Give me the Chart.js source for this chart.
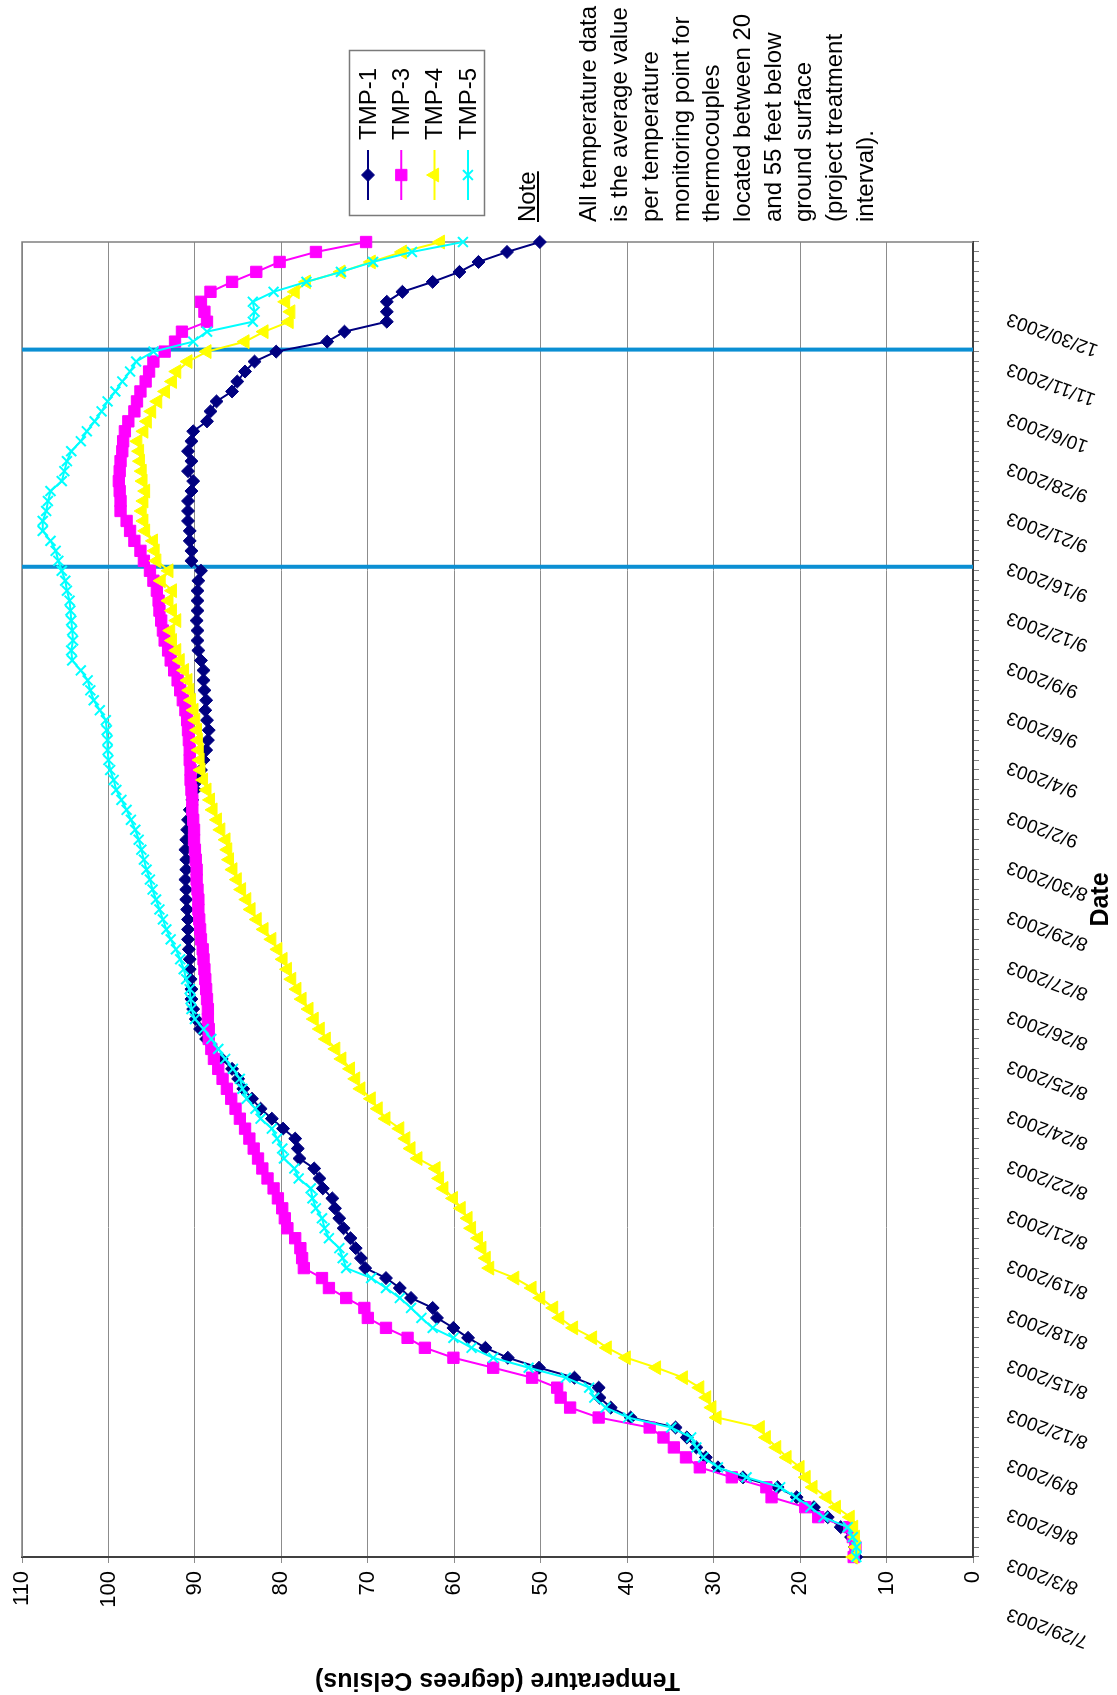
<!DOCTYPE html>
<html>
<head>
<meta charset="utf-8">
<script src="https://cdn.jsdelivr.net/npm/chart.js@4.4.0/dist/chart.umd.min.js"></script>
<style>
  html, body { margin: 0; padding: 0; background: #fff; }
  body { width: 1117px; height: 1695px; overflow: hidden; position: relative; }
  /* chart is laid out landscape, then turned a quarter to the left */
  #sheet { position: absolute; left: -289px; top: 289px; width: 1695px; height: 1117px; transform: rotate(-90deg); background: #fff; }
  #note { position: absolute; left: 1473px; top: 512px; font: 24px "Liberation Sans", Arial, sans-serif; line-height: 30.7px; color: #000; white-space: nowrap; }
</style>
</head>
<body>
<div id="sheet">
  <canvas id="tempChart" width="1695" height="1117"></canvas>
  <div id="note"><u>Note</u><br><br>All temperature data<br>is the average value<br>per temperature<br>monitoring point for<br>thermocouples<br>located between 20<br>and 55 feet below<br>ground surface<br>(project treatment<br>interval).</div>
</div>
<script>
// date labels shown on the category axis (one every 5 readings)
const tickLabels = ['7/29/2003', '8/3/2003', '8/6/2003', '8/9/2003', '8/12/2003', '8/15/2003', '8/18/2003',
  '8/19/2003', '8/21/2003', '8/22/2003', '8/24/2003', '8/25/2003', '8/26/2003', '8/27/2003', '8/29/2003',
  '8/30/2003', '9/2/2003', '9/4/2003', '9/6/2003', '9/9/2003', '9/12/2003', '9/16/2003', '9/21/2003',
  '9/28/2003', '10/6/2003', '11/11/2003', '12/30/2003'];
const labelEvery = 5;

// average temperature per monitoring point (deg C), one value per reading
const tmp1 = [13.5, 13.7, 14.1, 15.3, 16.8, 18.4, 20.4, 22.6, 26.6, 29.5,
  30.9, 32.0, 33.1, 34.4, 39.6, 41.9, 43.2, 43.3, 46.1, 50.2,
  53.8, 56.4, 58.4, 60.1, 62.0, 62.5, 65.0, 66.3, 67.9, 70.3,
  70.8, 71.4, 72.0, 72.8, 73.3, 73.8, 74.1, 75.2, 75.6, 76.2,
  77.9, 78.1, 78.4, 79.8, 81.1, 82.4, 83.4, 84.4, 85.0, 85.7,
  86.9, 87.9, 88.7, 89.4, 89.9, 90.2, 90.4, 90.4, 90.5, 90.6,
  90.6, 90.7, 90.8, 90.8, 90.8, 90.9, 91.0, 91.0, 91.1, 91.0,
  91.0, 91.1, 91.0, 90.9, 90.8, 90.6, 90.3, 90.0, 89.6, 89.3,
  89.0, 88.7, 88.5, 88.4, 88.6, 88.8, 88.7, 88.9, 89.0, 89.0,
  89.3, 89.6, 89.7, 89.7, 89.8, 89.7, 89.7, 89.7, 89.6, 89.3,
  90.4, 90.4, 90.6, 90.6, 90.8, 90.8, 90.8, 90.4, 90.2, 90.8,
  90.4, 90.8, 90.4, 90.2, 88.6, 88.2, 87.5, 85.7, 85.1, 84.2,
  83.1, 80.6, 74.7, 72.7, 67.8, 67.8, 67.8, 66.0, 62.5, 59.4,
  57.2, 53.9, 50.1];

const tmp3 = [13.8, 13.6, 13.9, 14.3, 17.9, 19.4, 23.3, 23.9, 27.9, 31.6,
  33.2, 34.6, 35.8, 37.4, 43.3, 46.6, 47.7, 48.1, 51.0, 55.5,
  60.1, 63.4, 65.4, 67.9, 70.0, 70.4, 72.5, 74.5, 75.3, 77.4,
  77.6, 77.8, 78.4, 79.3, 79.6, 79.9, 80.4, 80.9, 81.6, 82.2,
  82.7, 83.2, 83.7, 84.2, 84.8, 85.3, 85.8, 86.3, 86.8, 87.3,
  87.8, 88.1, 88.4, 88.4, 88.5, 88.5, 88.6, 88.7, 88.8, 88.9,
  89.0, 89.1, 89.3, 89.4, 89.5, 89.6, 89.6, 89.7, 89.8, 89.8,
  89.9, 90.0, 90.1, 90.1, 90.2, 90.3, 90.3, 90.4, 90.5, 90.5,
  90.6, 90.6, 90.7, 90.8, 90.9, 91.1, 91.4, 91.7, 92.0, 92.4,
  92.8, 93.1, 93.5, 93.7, 93.9, 94.1, 94.2, 94.4, 94.8, 95.2,
  95.9, 96.3, 97.0, 97.5, 97.9, 98.6, 98.6, 98.7, 98.8, 98.7,
  98.6, 98.4, 98.3, 98.1, 97.7, 97.0, 96.7, 96.3, 95.7, 95.3,
  94.8, 93.5, 92.3, 91.5, 88.6, 88.9, 89.3, 88.2, 85.7, 82.9,
  80.2, 76.0, 70.2];

const tmp4 = [13.8, 13.5, 13.6, 13.8, 14.2, 15.8, 16.9, 18.5, 19.3, 20.0,
  21.5, 22.7, 23.9, 24.6, 29.6, 30.2, 30.8, 31.6, 33.5, 36.6,
  40.1, 42.3, 44.0, 46.2, 47.8, 48.5, 50.0, 51.0, 53.0, 55.9,
  56.3, 56.8, 57.2, 58.0, 58.4, 59.2, 60.1, 61.2, 61.7, 62.1,
  64.2, 65.0, 65.6, 66.3, 67.9, 68.8, 69.6, 70.8, 71.4, 72.0,
  73.0, 73.7, 74.8, 75.5, 76.2, 76.8, 77.6, 78.2, 78.8, 79.3,
  79.8, 80.4, 81.1, 82.0, 82.8, 83.5, 84.0, 84.6, 85.1, 85.6,
  86.0, 86.2, 86.4, 87.0, 87.4, 87.9, 88.2, 88.6, 89.0, 89.3,
  89.4, 89.5, 89.6, 89.7, 89.9, 90.1, 90.4, 90.6, 90.8, 91.2,
  91.7, 92.1, 92.6, 92.8, 92.1, 92.6, 93.0, 92.6, 93.9, 93.0,
  94.4, 94.6, 94.8, 95.7, 95.9, 96.1, 95.9, 95.7, 96.0, 96.1,
  96.3, 96.4, 96.6, 95.9, 95.5, 95.0, 94.3, 93.4, 92.6, 92.1,
  90.8, 88.6, 84.2, 82.0, 79.1, 78.9, 79.5, 78.4, 77.1, 73.1,
  69.6, 66.0, 61.6];

const tmp5 = [13.5, 13.5, 13.9, 14.5, 17.3, 18.8, 20.5, 22.3, 26.2, 29.5,
  31.2, 32.0, 32.6, 34.9, 39.9, 42.5, 43.8, 44.4, 47.1, 51.4,
  55.5, 58.0, 60.1, 62.5, 63.8, 65.0, 66.3, 67.9, 69.6, 72.5,
  72.9, 73.3, 74.5, 75.0, 75.3, 76.0, 76.4, 76.6, 78.0, 78.5,
  79.7, 79.9, 80.5, 81.1, 82.4, 83.0, 84.0, 84.5, 84.8, 85.6,
  86.5, 87.3, 88.1, 89.0, 90.0, 90.4, 90.5, 90.6, 91.0, 91.3,
  91.7, 92.2, 92.8, 93.3, 93.7, 94.1, 94.5, 94.9, 95.2, 95.6,
  95.9, 96.2, 96.5, 96.9, 97.4, 97.9, 98.5, 99.1, 99.4, 99.8,
  100.0, 100.1, 100.1, 100.2, 100.3, 101.0, 101.7, 102.1, 102.4, 103.2,
  104.2, 104.3, 104.1, 104.2, 104.3, 104.4, 104.5, 104.8, 105.0, 105.4,
  105.8, 106.1, 106.7, 107.6, 107.6, 107.2, 107.0, 106.7, 105.4, 105.1,
  104.8, 104.3, 103.2, 102.5, 101.6, 100.8, 100.1, 99.2, 98.4, 97.5,
  96.8, 94.8, 90.2, 88.6, 83.3, 83.1, 83.3, 80.9, 77.1, 73.1,
  69.4, 64.9, 59.0];

// the two blue marker lines, as positions on the reading axis
const eventLines = [99.4, 121.2];

const categories = tmp1.map((v, i) => (i % labelEvery === 0 ? tickLabels[i / labelEvery] : ''));

const FONT = '"Liberation Sans", Arial, sans-serif';

const extras = {
  id: 'extras',
  beforeDatasetsDraw(chart) {
    const { ctx, chartArea: a } = chart;
    const x = chart.scales.x;
    ctx.save();
    // right edge of the plot area
    ctx.strokeStyle = '#808080';
    ctx.lineWidth = 1.5;
    ctx.beginPath();
    ctx.moveTo(a.left, a.top);
    ctx.lineTo(a.right, a.top);
    ctx.lineTo(a.right, a.bottom);
    ctx.stroke();
    // blue treatment-interval lines
    ctx.strokeStyle = '#0b8fd3';
    ctx.lineWidth = 4;
    eventLines.forEach(v => {
      const px = x.getPixelForValue(v);
      ctx.beginPath();
      ctx.moveTo(px, a.top);
      ctx.lineTo(px, a.bottom);
      ctx.stroke();
    });
    ctx.restore();
  },
  afterDraw(chart) {
    // boxed legend to the right of the plot
    const ctx = chart.ctx;
    ctx.save();
    ctx.strokeStyle = '#7a7a7a';
    ctx.lineWidth = 1.5;
    ctx.strokeRect(1479.5, 349.5, 165, 135);
    chart.data.datasets.forEach((ds, k) => {
      const cy = 368 + k * 33.3;
      ctx.strokeStyle = ds.borderColor;
      ctx.lineWidth = 2;
      ctx.beginPath();
      ctx.moveTo(1495, cy);
      ctx.lineTo(1545, cy);
      ctx.stroke();
      ctx.fillStyle = ds.backgroundColor;
      ctx.lineWidth = ds.pointBorderWidth;
      Chart.helpers.drawPoint(ctx, {
        pointStyle: ds.pointStyle, radius: ds.pointRadius, rotation: 0, borderWidth: ds.pointBorderWidth
      }, 1520, cy);
      ctx.fillStyle = '#000';
      ctx.font = '24px ' + FONT;
      ctx.textAlign = 'left';
      ctx.textBaseline = 'middle';
      ctx.fillText(ds.label, 1555, cy + 1);
    });
    ctx.restore();
  }
};

const ctx = document.getElementById('tempChart').getContext('2d');

new Chart(ctx, {
  type: 'line',
  data: {
    labels: categories,
    datasets: [
      { label: 'TMP-1', data: tmp1, order: 4, borderColor: '#000080', backgroundColor: '#000080',
        pointStyle: 'rectRot', pointRadius: 6.5, pointBorderWidth: 1, borderWidth: 2, clip: false },
      { label: 'TMP-3', data: tmp3, order: 3, borderColor: '#ff00ff', backgroundColor: '#ff00ff',
        pointStyle: 'rect', pointRadius: 8, pointBorderWidth: 1, borderWidth: 2, clip: false },
      { label: 'TMP-4', data: tmp4, order: 2, borderColor: '#ffff00', backgroundColor: '#ffff00',
        pointStyle: 'triangle', pointRadius: 8, pointBorderWidth: 1, borderWidth: 2, clip: false },
      { label: 'TMP-5', data: tmp5, order: 1, borderColor: '#00ffff', backgroundColor: '#00ffff',
        pointStyle: 'crossRot', pointRadius: 7, pointBorderWidth: 2, borderWidth: 2, clip: false }
    ]
  },
  options: {
    responsive: false,
    animation: false,
    devicePixelRatio: 1,
    layout: { padding: { left: 0, top: 22, right: 242, bottom: 0 } },
    elements: { line: { tension: 0 } },
    plugins: { legend: { display: false }, tooltip: { enabled: false } },
    scales: {
      x: {
        type: 'category',
        offset: false,
        grid: { drawOnChartArea: false, drawTicks: true, tickLength: 6, color: '#808080' },
        border: { color: '#404040', width: 2 },
        ticks: {
          autoSkip: false, minRotation: 70, maxRotation: 70, labelOffset: -56, padding: 25,
          color: '#000', font: { family: FONT, size: 19 }
        },
        title: { display: true, text: 'Date', color: '#000', padding: { top: 0, bottom: 1 },
          font: { family: FONT, size: 25, weight: 'bold' } },
        afterFit: scale => { scale.height = 144; }
      },
      y: {
        min: 0,
        max: 110,
        grid: { color: '#8c8c8c', lineWidth: 1, tickLength: 6 },
        border: { color: '#404040', width: 2 },
        ticks: { stepSize: 10, padding: 8, color: '#000', font: { family: FONT, size: 22 } },
        title: { display: true, text: 'Temperature (degrees Celsius)', color: '#000', padding: { top: 0, bottom: 0 },
          font: { family: FONT, size: 25, weight: 'bold' } },
        afterFit: scale => { scale.width = 138; }
      }
    }
  },
  plugins: [extras]
});
</script>
</body>
</html>
